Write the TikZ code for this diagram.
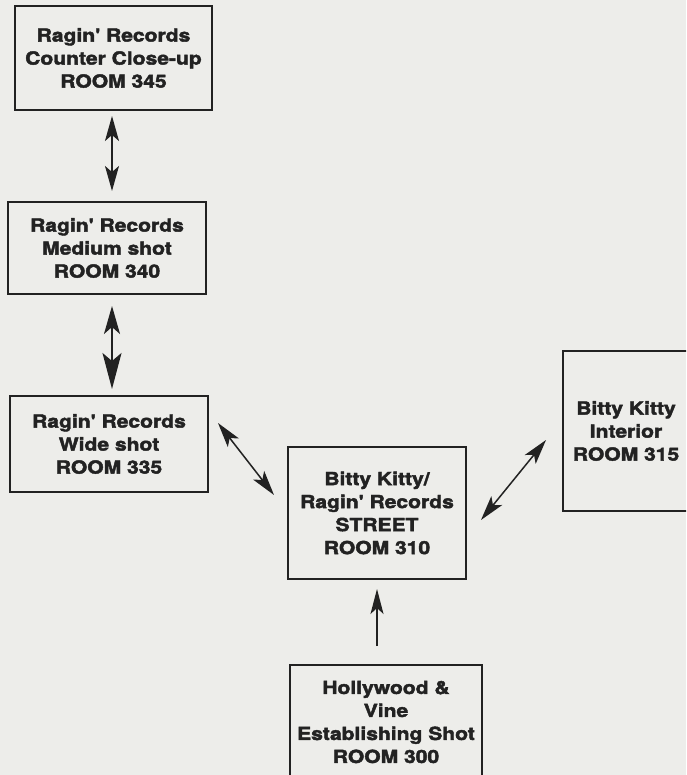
\documentclass[tikz,border=0pt]{standalone}
\usepackage{fontspec}
\setmainfont{TeX Gyre Heros}
\newfontfamily\boxfont{TeX Gyre Heros}[FakeStretch=1.17,FakeBold=2.4]
\usetikzlibrary{arrows.meta}
\definecolor{bg}{HTML}{EDEDEA}
\definecolor{ink}{HTML}{222222}
\tikzset{
  room/.style={draw=ink, line width=2pt, text=ink, align=center, inner sep=0pt,
    font=\boxfont\fontsize{18}{23}\selectfont\bfseries},
  link/.style={draw=ink, line width=1.5pt,
    {Stealth[length=25pt,width=14pt,inset=6pt]}-{Stealth[length=25pt,width=14pt,inset=6pt]}},
  biglink/.style={draw=ink, line width=1.8pt,
    {Stealth[length=28pt,width=16pt,inset=7pt]}-{Stealth[length=36pt,width=19pt,inset=8pt]}},
  uplink/.style={draw=ink, line width=1.5pt, -{Stealth[length=25pt,width=13pt,inset=6pt]}}
}
\begin{document}
\begin{tikzpicture}[x=1pt,y=-1pt]
\fill[bg] (0,0) rectangle (686,775);
\useasboundingbox (0,0) rectangle (686,775);
\clip (0,0) rectangle (686,775);
\node[room, minimum width=197pt, minimum height=104pt] (n345) at (113.5,58) {Ragin' Records\\Counter Close-up\\ROOM 345};
\node[room, minimum width=198pt, minimum height=92pt] (n340) at (107,248) {Ragin' Records\\Medium shot\\ROOM 340};
\node[room, minimum width=198pt, minimum height=96pt] (n335) at (109,444) {Ragin' Records\\Wide shot\\ROOM 335};
\node[room, minimum width=178pt, minimum height=132pt] (n310) at (377,513) {Bitty Kitty/\\Ragin' Records\\STREET\\ROOM 310};
\node[room, minimum width=126pt, minimum height=160pt] (n315) at (626,431) {Bitty Kitty\\Interior\\ROOM 315};
\node[room, minimum width=192pt, minimum height=114pt] (n300) at (386,722) {Hollywood \&\\Vine\\Establishing Shot\\ROOM 300};

\draw[link] ([xshift=-1.5pt,yshift=-5pt]n345.south) -- ([xshift=5pt,yshift=10pt]n340.north);
\draw[biglink] ([xshift=5pt,yshift=-11pt]n340.south) -- ([xshift=3pt,yshift=6pt]n335.north);
\draw[link] ([xshift=9pt,yshift=21pt]n335.east) -- ([xshift=-13pt,yshift=18pt]n310.west);
\draw[link] ([xshift=14pt,yshift=-7pt]n310.east) -- ([xshift=-16pt,yshift=-9pt]n315.west);
\draw[uplink] ([xshift=-9pt,yshift=18pt]n300.north) -- ([yshift=-9pt]n310.south);
\end{tikzpicture}
\end{document}
